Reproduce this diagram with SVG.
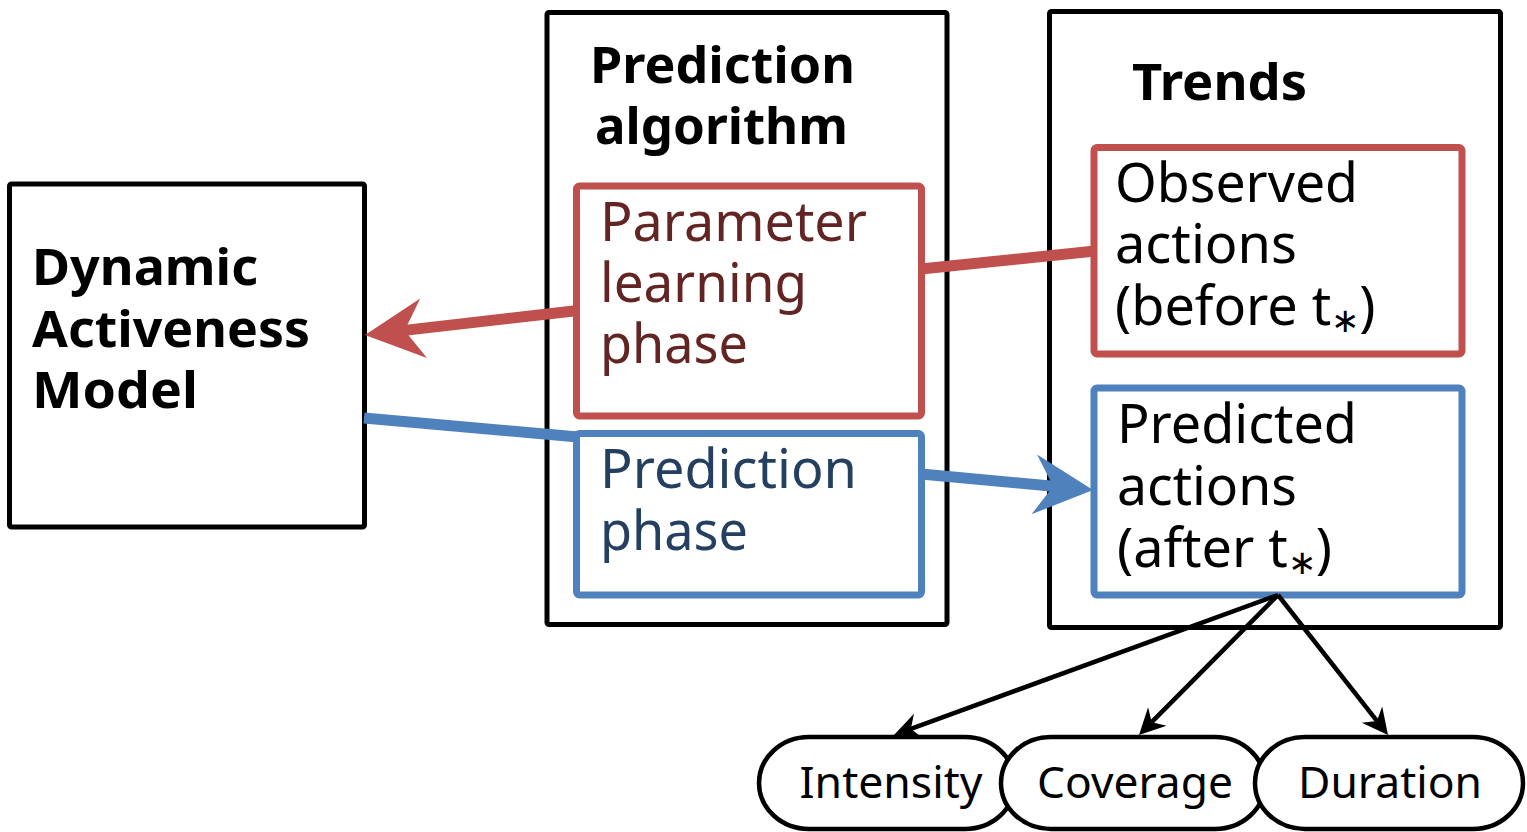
<svg xmlns="http://www.w3.org/2000/svg" width="1527" height="832" viewBox="0 0 1527 832">
  <style>
    .frame { fill: #ffffff; stroke: #000000; stroke-width: 5; }
    .redbox { fill: #ffffff; stroke: #C0504D; stroke-width: 7; }
    .bluebox { fill: #ffffff; stroke: #4F81BD; stroke-width: 7; }
    .pill { fill: #ffffff; stroke: #000000; stroke-width: 4.5; }
    .bold { font-family: "Noto Sans", "Open Sans", sans-serif; font-weight: bold; font-size: 51px; fill: #000000; }
    .body { font-family: "Noto Sans", "Open Sans", sans-serif; font-size: 54px; fill: #000000; }
    .red-t { fill: #632523; }
    .blue-t { fill: #243F60; }
    .small { font-family: "Noto Sans", "Open Sans", sans-serif; font-size: 44px; fill: #000000; text-anchor: middle; }
    .sub { font-size: 34px; }
    .thick-red { stroke: #C0504D; stroke-width: 11; fill: none; }
    .thick-blue { stroke: #4F81BD; stroke-width: 11; fill: none; }
    .thin { stroke: #000000; stroke-width: 4.5; fill: none; }
  </style>
  <defs>
    <!-- broad barbed heads; the line ends at the notch -->
    <marker id="headRed" markerUnits="userSpaceOnUse" viewBox="-20 -31 61 62" refX="0" refY="0" markerWidth="61" markerHeight="62" orient="auto">
      <path d="M40,0 L-19,-30 L0,0 L-19,30 Z" fill="#C0504D"/>
    </marker>
    <marker id="headBlue" markerUnits="userSpaceOnUse" viewBox="-20 -31 61 62" refX="0" refY="0" markerWidth="61" markerHeight="62" orient="auto">
      <path d="M40,0 L-19,-30 L0,0 L-19,30 Z" fill="#4F81BD"/>
    </marker>
    <marker id="headBlack" markerUnits="userSpaceOnUse" viewBox="-10 -15 30 30" refX="0" refY="0" markerWidth="30" markerHeight="30" orient="auto">
      <path d="M18,0 L-8,-13 L0,0 L-8,13 Z" fill="#000000"/>
    </marker>
  </defs>

  <!-- model box -->
  <g id="dynamic-model">
    <rect class="frame" x="9.5" y="184" width="355" height="343" rx="2"/>
    <text class="bold" x="32" y="285" textLength="226" lengthAdjust="spacingAndGlyphs">Dynamic</text>
    <text class="bold" x="32" y="347" textLength="278" lengthAdjust="spacingAndGlyphs">Activeness</text>
    <text class="bold" x="32" y="408" textLength="166" lengthAdjust="spacingAndGlyphs">Model</text>
  </g>

  <!-- algorithm container -->
  <g id="prediction-algorithm">
    <rect class="frame" x="547" y="12.5" width="400" height="612" rx="2"/>
    <text class="bold" x="590" y="83" textLength="265" lengthAdjust="spacingAndGlyphs">Prediction</text>
    <text class="bold" x="595" y="144" textLength="253" lengthAdjust="spacingAndGlyphs">algorithm</text>
  </g>

  <g id="parameter-learning">
    <rect class="redbox" x="576.5" y="186" width="345" height="230" rx="3"/>
    <text class="body red-t" x="600" y="241" textLength="267" lengthAdjust="spacingAndGlyphs">Parameter</text>
    <text class="body red-t" x="600" y="302" textLength="207" lengthAdjust="spacingAndGlyphs">learning</text>
    <text class="body red-t" x="600" y="363" textLength="148" lengthAdjust="spacingAndGlyphs">phase</text>
  </g>

  <g id="prediction-phase">
    <rect class="bluebox" x="576.5" y="433.5" width="345" height="161.5" rx="3"/>
    <text class="body blue-t" x="600" y="488" textLength="257" lengthAdjust="spacingAndGlyphs">Prediction</text>
    <text class="body blue-t" x="600" y="550" textLength="148" lengthAdjust="spacingAndGlyphs">phase</text>
  </g>

  <!-- trends container -->
  <g id="trends">
    <rect class="frame" x="1049.5" y="11.5" width="451" height="616" rx="2"/>
    <text class="bold" x="1132" y="100" textLength="175" lengthAdjust="spacingAndGlyphs">Trends</text>
  </g>

  <g id="observed-actions">
    <rect class="redbox" x="1094" y="147.5" width="368" height="206.5" rx="3"/>
    <text class="body" x="1115" y="202" textLength="243" lengthAdjust="spacingAndGlyphs">Observed</text>
    <text class="body" x="1115" y="263" textLength="182" lengthAdjust="spacingAndGlyphs">actions</text>
    <text class="body" x="1115" y="325">(before t<tspan class="sub" dy="7">∗</tspan><tspan dy="-7">)</tspan></text>
  </g>

  <g id="predicted-actions">
    <rect class="bluebox" x="1094" y="388" width="368" height="207" rx="3"/>
    <text class="body" x="1117" y="443" textLength="240" lengthAdjust="spacingAndGlyphs">Predicted</text>
    <text class="body" x="1117" y="505" textLength="180" lengthAdjust="spacingAndGlyphs">actions</text>
    <text class="body" x="1117" y="567">(after t<tspan class="sub" dy="7">∗</tspan><tspan dy="-7">)</tspan></text>
  </g>

  <!-- trend measures -->
  <g id="intensity">
    <rect class="pill" x="759" y="737" width="256" height="92" rx="50" ry="46"/>
    <text class="small" x="891" y="798" textLength="183" lengthAdjust="spacingAndGlyphs">Intensity</text>
  </g>
  <g id="coverage">
    <rect class="pill" x="1001" y="737" width="264" height="92" rx="50" ry="46"/>
    <text class="small" x="1135" y="798" textLength="196" lengthAdjust="spacingAndGlyphs">Coverage</text>
  </g>
  <g id="duration">
    <rect class="pill" x="1255" y="737" width="268" height="92" rx="50" ry="46"/>
    <text class="small" x="1390" y="798" textLength="184" lengthAdjust="spacingAndGlyphs">Duration</text>
  </g>

  <!-- connectors -->
  <g id="connectors">
    <line class="thick-red" x1="1095" y1="251" x2="921" y2="269"/>
    <line class="thick-red" x1="578" y1="310.5" x2="404.7" y2="330.4" marker-end="url(#headRed)"/>
    <line class="thick-blue" x1="364" y1="418" x2="578" y2="437"/>
    <line class="thick-blue" x1="921" y1="474" x2="1053.2" y2="486.2" marker-end="url(#headBlue)"/>
    <line class="thin" x1="1278" y1="595" x2="910.9" y2="728.8" marker-end="url(#headBlack)"/>
    <line class="thin" x1="1278" y1="595" x2="1151.7" y2="722.2" marker-end="url(#headBlack)"/>
    <line class="thin" x1="1278" y1="595" x2="1376.9" y2="720.9" marker-end="url(#headBlack)"/>
  </g>
</svg>
